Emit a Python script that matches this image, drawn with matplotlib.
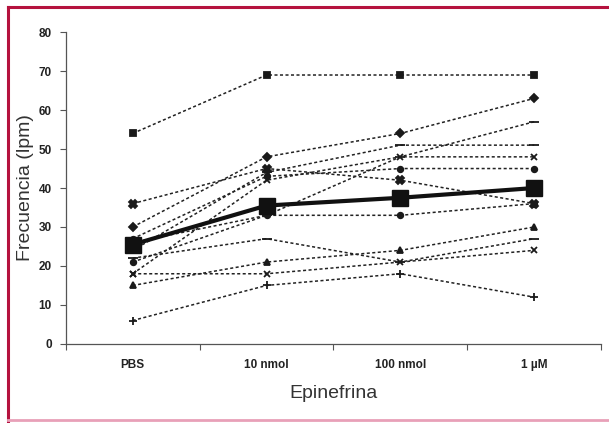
import matplotlib
matplotlib.use("Agg")
import matplotlib.pyplot as plt
from matplotlib.lines import Line2D
from matplotlib.ticker import FixedLocator

plt.rcParams['font.family'] = ['Liberation Sans', 'DejaVu Sans']

categories = ["PBS", "10 nmol", "100 nmol", "1 µM"]

s_square = [54, 69, 69, 69]
s_diamond = [30, 48, 54, 63]
s_dash1 = [26, 33, 48, 57]
s_dash2 = [24, 44, 51, 51]
s_x1 = [18, 42, 48, 48]
s_circle1 = [27, 43, 45, 45]
s_boxx = [36, 45, 42, 36]
s_circle2 = [21, 33, 33, 36]
s_triangle = [15, 21, 24, 30]
s_dash3 = [22, 27, 21, 27]
s_x2 = [18, 18, 21, 24]
s_plus = [6, 15, 18, 12]
mean_vals = [25.5, 35.5, 37.5, 40]

series = [
    (s_square, 's', 4.5),
    (s_diamond, 'D', 4),
    (s_dash1, '_', 7),
    (s_dash2, '_', 7),
    (s_x1, 'x', 5),
    (s_circle1, 'o', 4),
    (s_boxx, 'X', 5.5),
    (s_circle2, 'o', 4),
    (s_triangle, '^', 5),
    (s_dash3, '_', 7),
    (s_x2, 'x', 5),
    (s_plus, '+', 6),
]

fig = plt.figure(figsize=(6.09, 4.23), dpi=100)
ax = fig.add_axes([0.108, 0.187, 0.879, 0.737])

xs = list(range(len(categories)))
for vals, mk, ms in series:
    ax.plot(xs, vals, color='#222222', lw=1.1, ls=(0, (2, 1.6)),
            marker=mk, ms=ms, mew=1.3, mfc='#1a1a1a', mec='#1a1a1a', zorder=2)

ax.plot(xs, mean_vals, color='#111111', lw=3, marker='s', ms=11,
        mfc='#111111', mec='#111111', zorder=3)

ax.set_xlim(-0.5, 3.5)
ax.set_ylim(0, 80)
ax.set_yticks(range(0, 81, 10))
ax.set_xticks(xs)
ax.set_xticklabels(categories)
ax.xaxis.set_minor_locator(FixedLocator([-0.5, 0.5, 1.5, 2.5, 3.5]))
ax.tick_params(axis='x', which='major', length=0, pad=11, labelsize=8.5,
               labelcolor='#222222')
ax.tick_params(axis='x', which='minor', length=4, color='#555555', width=0.8)
ax.tick_params(axis='y', length=4, color='#555555', width=0.8, labelsize=8.5,
               labelcolor='#222222', pad=6)
for lab in ax.get_xticklabels() + ax.get_yticklabels():
    lab.set_fontweight('bold')

for sp in ['top', 'right']:
    ax.spines[sp].set_visible(False)
for sp in ['left', 'bottom']:
    ax.spines[sp].set_color('#555555')
    ax.spines[sp].set_linewidth(0.9)

ax.set_ylabel("Frecuencia (lpm)", fontsize=14, color='#333333', labelpad=3)
ax.set_xlabel("Epinefrina", fontsize=14, color='#333333', labelpad=10)

# frame border
fig.add_artist(Line2D([8/609, 8/609], [1 - 7/423, 1 - 421/423], transform=fig.transFigure,
                      color='#b5123e', lw=2.2))
fig.add_artist(Line2D([8/609, 1.0], [1 - 7/423, 1 - 7/423], transform=fig.transFigure,
                      color='#b5123e', lw=2.2))
fig.add_artist(Line2D([8/609, 1.0], [1 - 420/423, 1 - 420/423], transform=fig.transFigure,
                      color='#e8a0b8', lw=2))

fig.savefig("out.png", dpi=100)
